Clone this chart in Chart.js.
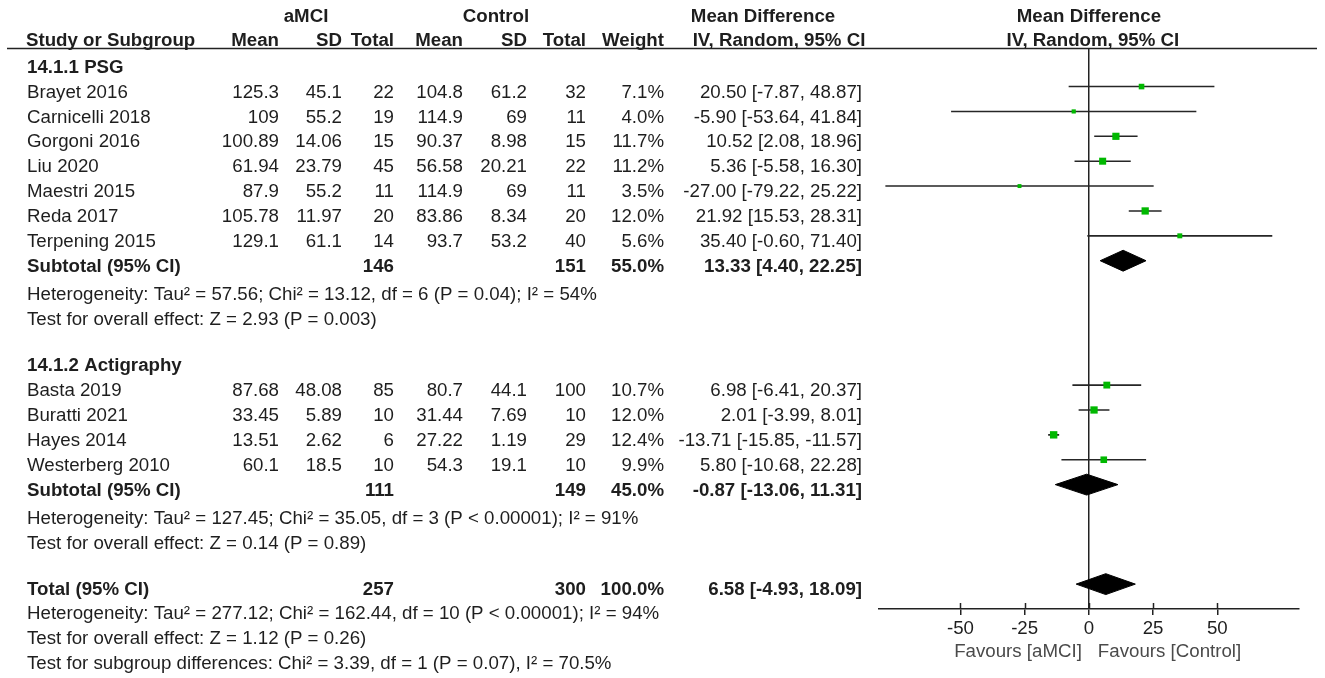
<!DOCTYPE html>
<html>
<head>
<meta charset="utf-8">
<title>Forest plot</title>
<script src="https://cdn.jsdelivr.net/npm/chart.js@4.4.1/dist/chart.umd.min.js"></script>
<style>
  html, body { margin: 0; padding: 0; background: #fff; }
  canvas { display: block; }
</style>
</head>
<body>
<canvas id="forest" width="1325" height="678"></canvas>
<script>
// --- data ---
const studies = ['Brayet 2016', 'Carnicelli 2018', 'Gorgoni 2016', 'Liu 2020', 'Maestri 2015', 'Reda 2017', 'Terpening 2015',
                 'Basta 2019', 'Buratti 2021', 'Hayes 2014', 'Westerberg 2010'];
const studyGroup = [0, 0, 0, 0, 0, 0, 0, 1, 1, 1, 1];
const amciMean = [125.3, 109, 100.89, 61.94, 87.9, 105.78, 129.1, 87.68, 33.45, 13.51, 60.1];
const amciSD   = [45.1, 55.2, 14.06, 23.79, 55.2, 11.97, 61.1, 48.08, 5.89, 2.62, 18.5];
const amciN    = [22, 19, 15, 45, 11, 20, 14, 85, 10, 6, 10];
const ctrlMean = [104.8, 114.9, 90.37, 56.58, 114.9, 83.86, 93.7, 80.7, 31.44, 27.22, 54.3];
const ctrlSD   = [61.2, 69, 8.98, 20.21, 69, 8.34, 53.2, 44.1, 7.69, 1.19, 19.1];
const ctrlN    = [32, 11, 15, 22, 11, 20, 40, 100, 10, 29, 10];
const weights  = [7.1, 4.0, 11.7, 11.2, 3.5, 12.0, 5.6, 10.7, 12.0, 12.4, 9.9];
const md       = [20.50, -5.90, 10.52, 5.36, -27.00, 21.92, 35.40, 6.98, 2.01, -13.71, 5.80];
const ciLow    = [-7.87, -53.64, 2.08, -5.58, -79.22, 15.53, -0.60, -6.41, -3.99, -15.85, -10.68];
const ciHigh   = [48.87, 41.84, 18.96, 16.30, 25.22, 28.31, 71.40, 20.37, 8.01, -11.57, 22.28];

const groupNames  = ['14.1.1 PSG', '14.1.2 Actigraphy'];
const groupN1     = [146, 111];
const groupN2     = [151, 149];
const groupWeight = [55.0, 45.0];
const groupMD     = [13.33, -0.87];
const groupLow    = [4.40, -13.06];
const groupHigh   = [22.25, 11.31];
const groupHet    = ['Heterogeneity: Tau\u00b2 = 57.56; Chi\u00b2 = 13.12, df = 6 (P = 0.04); I\u00b2 = 54%',
                     'Heterogeneity: Tau\u00b2 = 127.45; Chi\u00b2 = 35.05, df = 3 (P < 0.00001); I\u00b2 = 91%'];
const groupTest   = ['Test for overall effect: Z = 2.93 (P = 0.003)',
                     'Test for overall effect: Z = 0.14 (P = 0.89)'];

const totalN1 = 257, totalN2 = 300, totalWeight = 100.0;
const totalMD = 6.58, totalLow = -4.93, totalHigh = 18.09;
const totalNotes = ['Heterogeneity: Tau\u00b2 = 277.12; Chi\u00b2 = 162.44, df = 10 (P < 0.00001); I\u00b2 = 94%',
                    'Test for overall effect: Z = 1.12 (P = 0.26)',
                    'Test for subgroup differences: Chi\u00b2 = 3.39, df = 1 (P = 0.07), I\u00b2 = 70.5%'];

const xTicks = [-50, -25, 0, 25, 50];
const favours = ['Favours [aMCI]', 'Favours [Control]'];

// --- look ---
const FONT = "'Liberation Sans', Arial, Helvetica, sans-serif";
const FS = 18.7;
const INK = '#1e1e1e';
const GREEN = '#00b800';
const COL_R = [279, 342, 394, 463, 527, 586, 664, 862];   // right edges of the numeric columns
const NAME_X = 27;
const TEXT_DY = 6;
const DIAMOND_H = 0.42;

// --- row layout (row index = y value) ---
const rows = [];
const studyRow = [];
const groupRow = [];
let r = 2;
groupNames.forEach((g, gi) => {
  rows.push({ r: r++, kind: 'title', text: g });
  studies.forEach((s, i) => {
    if (studyGroup[i] !== gi) return;
    studyRow[i] = r;
    rows.push({ r: r++, kind: 'study', i: i });
  });
  groupRow[gi] = r;
  rows.push({ r: r++, kind: 'sub', g: gi });
  rows.push({ r: r++, kind: 'note', text: groupHet[gi], dy: 3 });
  rows.push({ r: r++, kind: 'note', text: groupTest[gi], dy: 3 });
  r++;
});
const totalRow = r;
rows.push({ r: r++, kind: 'total' });
totalNotes.forEach(t => rows.push({ r: r++, kind: 'note', text: t, dy: -1 }));

const ci = (m, lo, hi) => m.toFixed(2) + ' [' + lo.toFixed(2) + ', ' + hi.toFixed(2) + ']';

function txt(ctx, s, x, y, align, bold) {
  ctx.font = (bold ? 'bold ' : '') + FS + 'px ' + FONT;
  ctx.textAlign = align;
  ctx.fillText(s, x, y);
}

const tablePlugin = {
  id: 'forestTable',
  afterDraw(chart) {
    const { ctx, scales: { x, y } } = chart;
    ctx.save();
    ctx.fillStyle = INK;
    ctx.textBaseline = 'middle';

    // column headers
    const h1 = 17, h2 = 41, x0 = x.getPixelForValue(0);
    txt(ctx, 'aMCI', 306, h1, 'center', true);
    txt(ctx, 'Control', 496, h1, 'center', true);
    txt(ctx, 'Mean Difference', 763, h1, 'center', true);
    txt(ctx, 'Mean Difference', x0, h1, 'center', true);
    txt(ctx, 'Study or Subgroup', 26, h2, 'left', true);
    ['Mean', 'SD', 'Total', 'Mean', 'SD', 'Total', 'Weight'].forEach((h, k) => txt(ctx, h, COL_R[k], h2, 'right', true));
    txt(ctx, 'IV, Random, 95% CI', 779, h2, 'center', true);
    txt(ctx, 'IV, Random, 95% CI', x0 + 4, h2, 'center', true);

    ctx.strokeStyle = '#222';
    ctx.lineWidth = 1.5;
    ctx.beginPath();
    ctx.moveTo(7, 48.5);
    ctx.lineTo(1317, 48.5);
    ctx.stroke();

    rows.forEach(row => {
      const py = y.getPixelForValue(row.r) + TEXT_DY;
      if (row.kind === 'title') {
        txt(ctx, row.text, NAME_X, py, 'left', true);
      } else if (row.kind === 'study') {
        const i = row.i;
        const cells = [String(amciMean[i]), String(amciSD[i]), String(amciN[i]),
                       String(ctrlMean[i]), String(ctrlSD[i]), String(ctrlN[i]),
                       weights[i].toFixed(1) + '%', ci(md[i], ciLow[i], ciHigh[i])];
        txt(ctx, studies[i], NAME_X, py, 'left', false);
        cells.forEach((c, k) => txt(ctx, c, COL_R[k], py, 'right', false));
      } else if (row.kind === 'sub' || row.kind === 'total') {
        const isSub = row.kind === 'sub';
        const g = row.g;
        txt(ctx, isSub ? 'Subtotal (95% CI)' : 'Total (95% CI)', NAME_X, py, 'left', true);
        txt(ctx, String(isSub ? groupN1[g] : totalN1), COL_R[2], py, 'right', true);
        txt(ctx, String(isSub ? groupN2[g] : totalN2), COL_R[5], py, 'right', true);
        txt(ctx, (isSub ? groupWeight[g] : totalWeight).toFixed(1) + '%', COL_R[6], py, 'right', true);
        txt(ctx, isSub ? ci(groupMD[g], groupLow[g], groupHigh[g]) : ci(totalMD, totalLow, totalHigh), COL_R[7], py, 'right', true);
      } else if (row.kind === 'note') {
        txt(ctx, row.text, NAME_X, py + row.dy, 'left', false);
      }
    });

    // upper halves of the axis tick marks
    ctx.strokeStyle = '#222';
    ctx.lineWidth = 1.5;
    const ab = chart.chartArea.bottom;
    xTicks.forEach(v => {
      const px = Math.round(x.getPixelForValue(v)) + 0.5;
      ctx.beginPath();
      ctx.moveTo(px, ab - 6);
      ctx.lineTo(px, ab);
      ctx.stroke();
    });

    // favours labels
    ctx.fillStyle = '#4a4a4a';
    txt(ctx, favours[0], x0 - 7, 652, 'right', false);
    txt(ctx, favours[1], x0 + 9, 652, 'left', false);
    ctx.restore();
  }
};

// --- datasets ---
const ciPoints = [];
studies.forEach((s, i) => {
  ciPoints.push({ x: ciLow[i], y: studyRow[i] }, { x: ciHigh[i], y: studyRow[i] }, { x: md[i], y: null });
});
const squarePoints = studies.map((s, i) => ({ x: md[i], y: studyRow[i] }));

function diamond(lo, est, hi, row) {
  return [{ x: lo, y: row }, { x: est, y: row - DIAMOND_H }, { x: hi, y: row },
          { x: est, y: row + DIAMOND_H }, { x: lo, y: row }];
}
const diamondSets = groupNames.map((g, gi) => diamond(groupLow[gi], groupMD[gi], groupHigh[gi], groupRow[gi]));
diamondSets.push(diamond(totalLow, totalMD, totalHigh, totalRow));

const datasets = [
  {
    label: 'Studies',
    data: squarePoints,
    showLine: false,
    pointStyle: 'rect',
    pointRadius: ctx => 1.485 * Math.sqrt(weights[ctx.dataIndex]),
    pointBackgroundColor: GREEN,
    pointBorderWidth: 0,
    order: 0
  },
  {
    label: '95% CI',
    data: ciPoints,
    borderColor: '#262626',
    borderWidth: 1.6,
    pointRadius: 0,
    spanGaps: false,
    fill: false,
    order: 1
  }
].concat(diamondSets.map((d, k) => ({
  label: 'Pooled ' + k,
  data: d,
  borderColor: '#000',
  backgroundColor: '#000',
  borderWidth: 1,
  pointRadius: 0,
  fill: 'shape',
  order: 2
})));

Chart.defaults.font.family = FONT;
Chart.defaults.color = INK;

new Chart(document.getElementById('forest').getContext('2d'), {
  type: 'line',
  data: { datasets: datasets },
  options: {
    responsive: false,
    animation: false,
    devicePixelRatio: 1,
    events: [],
    layout: { padding: { left: 879, right: 26, top: 48, bottom: 0 } },
    plugins: { legend: { display: false }, tooltip: { enabled: false } },
    scales: {
      x: {
        type: 'linear',
        min: -81.7,
        max: 81.8,
        afterFit(s) { s.height = 69; },
        afterBuildTicks(s) { s.ticks = xTicks.map(v => ({ value: v })); },
        border: { display: true, color: '#222', width: 1.5 },
        grid: {
          color: c => (c.tick && c.tick.value === 0 ? '#222' : 'rgba(0,0,0,0)'),
          lineWidth: 1.5,
          drawTicks: true,
          tickLength: 6,
          tickColor: '#222',
          tickWidth: 1.5
        },
        ticks: { color: INK, font: { size: FS }, padding: 3, maxRotation: 0 }
      },
      y: {
        type: 'linear',
        display: false,
        reverse: true,
        min: 1.45,
        max: 24.0
      }
    }
  },
  plugins: [tablePlugin]
});
</script>
</body>
</html>
